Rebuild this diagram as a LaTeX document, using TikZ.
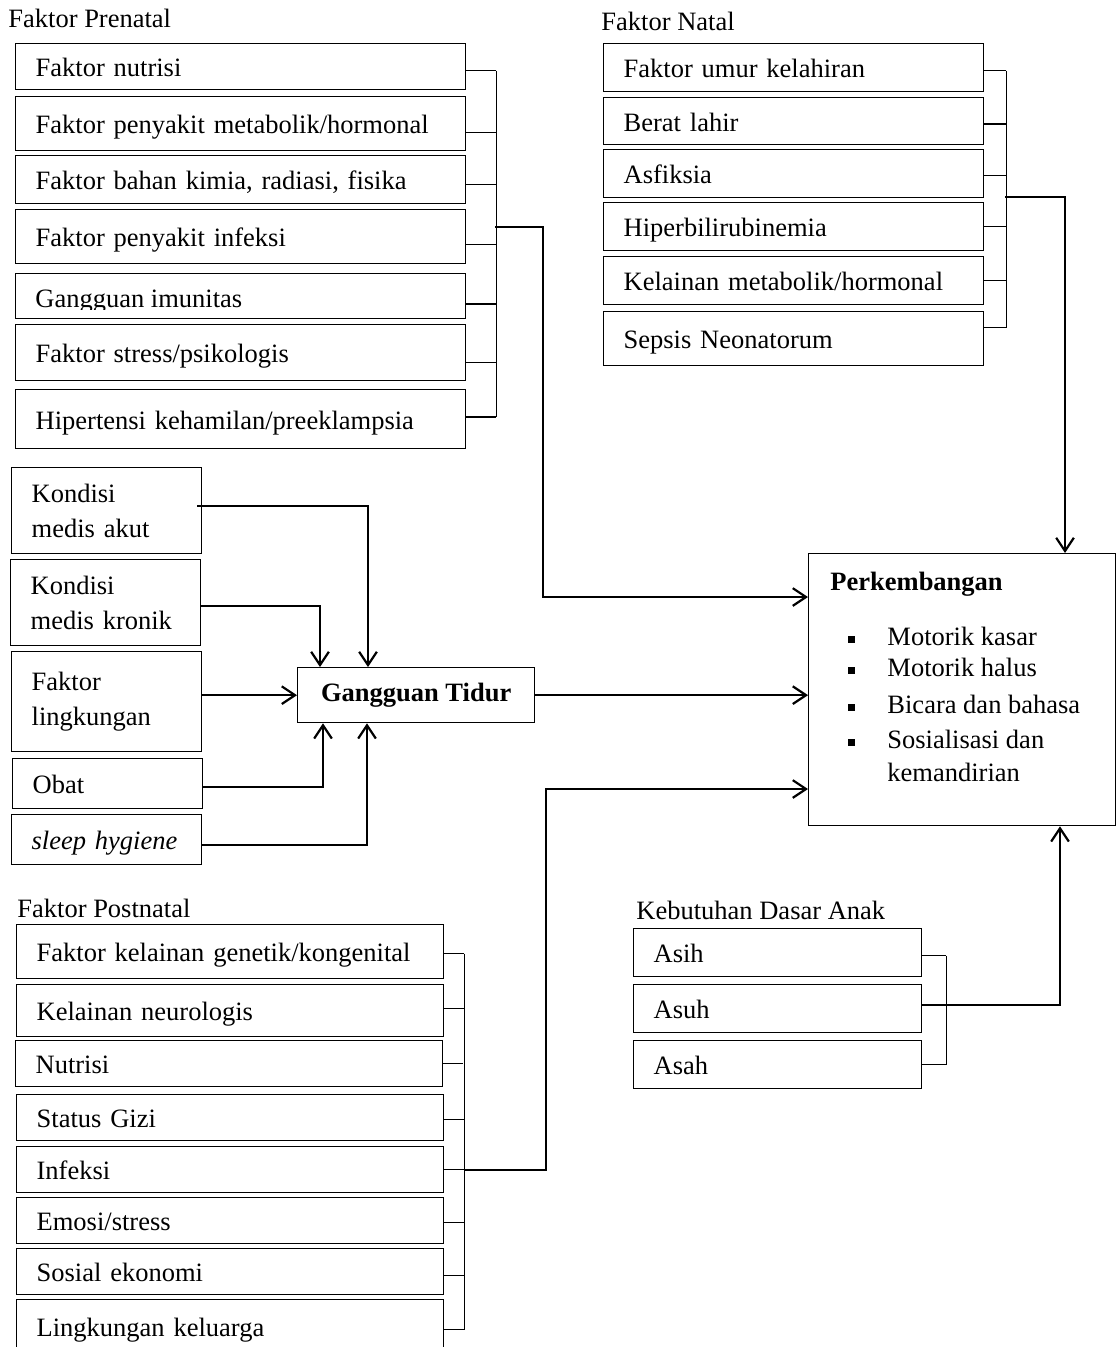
\documentclass[tikz,border=0pt]{standalone}
\usepackage{fontspec}
\setmainfont{Liberation Serif}
\usetikzlibrary{arrows.meta,calc}
\newlength{\pxu}
\setlength{\pxu}{0.4528pt}
\newcommand{\sqbullet}{\rule[1.3pt]{3pt}{3pt}}

\begin{document}
\begin{tikzpicture}[x=\pxu, y=-\pxu, >={Straight Barb[length=6pt,width=8pt]}]
    \fontsize{12pt}{15.85pt}\selectfont

    % Define styles
    \tikzstyle{box} = [draw, line width=0.6pt, anchor=north west, align=left, inner xsep=20*\pxu, inner ysep=0pt]
    \tikzstyle{single} = [box, text height=10pt, text depth=0.8pt]
    \tikzstyle{prebox} = [single, text width=410*\pxu]
    \tikzstyle{natbox} = [single, text width=340*\pxu]
    \tikzstyle{postbox} = [single, text width=387*\pxu]
    \tikzstyle{kebbox} = [single, text width=248*\pxu]
    \tikzstyle{sidebox} = [box, text width=150*\pxu]
    \tikzstyle{title} = [anchor=base west, inner sep=0pt]
    \tikzstyle{bracket} = [line width=0.7pt]
    \tikzstyle{conn} = [line width=1pt]

    \useasboundingbox (0,0) rectangle (1117,1347);
    \clip (0,0) rectangle (1117,1347);

    % PRENATAL
    \node (pretitle) [title] at (8,27) {Faktor Prenatal};
    \node (pre1) [prebox, minimum height=46*\pxu] at (15,43) {Faktor nutrisi};
    \node (pre2) [prebox, minimum height=54*\pxu] at (15,96) {Faktor penyakit metabolik/hormonal};
    \node (pre3) [prebox, minimum height=48*\pxu] at (15,155) {Faktor bahan kimia, radiasi, fisika};
    \node (pre4) [prebox, minimum height=54*\pxu] at (15,209) {Faktor penyakit infeksi};
    \node (pre5) [prebox, minimum height=45*\pxu] at (15,273) {};
    \begin{scope}
        \clip (15,273) rectangle (465,309);
        \node (pre5text) [title] at (35,307) {Gangguan imunitas};
    \end{scope}
    \node (pre6) [prebox, minimum height=56*\pxu] at (15,324) {Faktor stress/psikologis};
    \node (pre7) [prebox, minimum height=59*\pxu] at (15,389) {Hipertensi kehamilan/preeklampsia};

    % NATAL
    \node (nattitle) [title] at (601,30) {Faktor Natal};
    \node (nat1) [natbox, minimum height=48*\pxu] at (603,43) {Faktor umur kelahiran};
    \node (nat2) [natbox, minimum height=47*\pxu] at (603,97) {Berat lahir};
    \node (nat3) [natbox, minimum height=48*\pxu] at (603,149) {Asfiksia};
    \node (nat4) [natbox, minimum height=48*\pxu] at (603,202) {Hiperbilirubinemia};
    \node (nat5) [natbox, minimum height=48*\pxu] at (603,256) {Kelainan metabolik/hormonal};
    \node (nat6) [natbox, minimum height=54*\pxu] at (603,311) {Sepsis Neonatorum};

    % SLEEP FACTORS
    \node (akut) [sidebox, minimum height=86*\pxu] at (11,467) {Kondisi\\medis akut};
    \node (kronik) [sidebox, minimum height=86*\pxu] at (10,559) {Kondisi\\medis kronik};
    \node (ling) [sidebox, minimum height=100*\pxu] at (11,651) {Faktor\\lingkungan};
    \node (obat) [sidebox, single, minimum height=50*\pxu] at (12,758) {Obat};
    \node (sleep) [sidebox, single, minimum height=50*\pxu] at (11,814) {\textit{sleep hygiene}};
    \node (gt) [draw, line width=0.6pt, anchor=north west, minimum width=237*\pxu, minimum height=55*\pxu, font=\bfseries] at (297,667) {Gangguan Tidur};

    % DEVELOPMENT
    \node (dev) [draw, line width=0.6pt, anchor=north west, minimum width=307*\pxu, minimum height=272*\pxu] at (808,553) {};
    \node (devlist) [anchor=north west, inner sep=0pt, align=left] at ($(dev.north west)+(22,19)$) {\textbf{Perkembangan}\\[9pt]
        \hspace*{18\pxu}\makebox[39\pxu][l]{\sqbullet}Motorik kasar\\[-1.8pt]
        \hspace*{18\pxu}\makebox[39\pxu][l]{\sqbullet}Motorik halus\\[0.9pt]
        \hspace*{18\pxu}\makebox[39\pxu][l]{\sqbullet}Bicara dan bahasa\\
        \hspace*{18\pxu}\makebox[39\pxu][l]{\sqbullet}Sosialisasi dan\\[-0.9pt]
        \hspace*{57\pxu}kemandirian};

    % POSTNATAL
    \node (posttitle) [title] at (17,917) {Faktor Postnatal};
    \node (post1) [postbox, minimum height=54*\pxu] at (16,924) {Faktor kelainan genetik/kongenital};
    \node (post2) [postbox, minimum height=52*\pxu] at (16,984) {Kelainan neurologis};
    \node (post3) [postbox, minimum height=46*\pxu] at (15,1040) {Nutrisi};
    \node (post4) [postbox, minimum height=46*\pxu] at (16,1094) {Status Gizi};
    \node (post5) [postbox, minimum height=46*\pxu] at (16,1146) {Infeksi};
    \node (post6) [postbox, minimum height=46*\pxu] at (16,1197) {Emosi/stress};
    \node (post7) [postbox, minimum height=46*\pxu] at (16,1248) {Sosial ekonomi};
    \node (post8) [postbox, minimum height=54*\pxu] at (16,1299) {Lingkungan keluarga};

    % BASIC NEEDS
    \node (kebtitle) [title] at (636,919) {Kebutuhan Dasar Anak};
    \node (keb1) [kebbox, minimum height=48*\pxu] at (633,928) {Asih};
    \node (keb2) [kebbox, minimum height=48*\pxu] at (633,984) {Asuh};
    \node (keb3) [kebbox, minimum height=48*\pxu] at (633,1040) {Asah};

    % BRACKETS
    \draw[bracket] ([yshift=-4*\pxu]pre1.east) -- ++(30,0) coordinate (pre1s);
    \draw[bracket] ([yshift=-9*\pxu]pre2.east) -- ++(30,0) coordinate (pre2s);
    \draw[bracket] ([yshift=-5*\pxu]pre3.east) -- ++(30,0) coordinate (pre3s);
    \draw[bracket] ([yshift=-8*\pxu]pre4.east) -- ++(30,0) coordinate (pre4s);
    \draw[bracket] ([yshift=-8*\pxu]pre5.east) -- ++(30,0) coordinate (pre5s);
    \draw[bracket] ([yshift=-10*\pxu]pre6.east) -- ++(30,0) coordinate (pre6s);
    \draw[bracket] ([yshift=2*\pxu]pre7.east) -- ++(30,0) coordinate (pre7s);
    \draw[bracket] (pre1s) -- (pre7s);

    \draw[bracket] ([yshift=-3*\pxu]nat1.east) -- ++(22,0) coordinate (nat1s);
    \draw[bracket] ([yshift=-3*\pxu]nat2.east) -- ++(22,0) coordinate (nat2s);
    \draw[bracket] ([yshift=-2*\pxu]nat3.east) -- ++(22,0) coordinate (nat3s);
    \draw[bracket] (nat4.east) -- ++(22,0) coordinate (nat4s);
    \draw[bracket] (nat5.east) -- ++(22,0) coordinate (nat5s);
    \draw[bracket] ([yshift=11*\pxu]nat6.east) -- ++(22,0) coordinate (nat6s);
    \draw[bracket] (nat1s) -- (nat6s);

    \draw[bracket] ([yshift=-2*\pxu]post1.east) -- ++(20,0) coordinate (post1s);
    \draw[bracket] ([yshift=2*\pxu]post2.east) -- ++(20,0) coordinate (post2s);
    \draw[bracket] (post3.east) -- ++(20,0) coordinate (post3s);
    \draw[bracket] ([yshift=-2*\pxu]post4.east) -- ++(20,0) coordinate (post4s);
    \draw[bracket] (post5.east) -- ++(20,0) coordinate (post5s);
    \draw[bracket] ([yshift=-2*\pxu]post6.east) -- ++(20,0) coordinate (post6s);
    \draw[bracket] ([yshift=-4*\pxu]post7.east) -- ++(20,0) coordinate (post7s);
    \draw[bracket] ([yshift=-3*\pxu]post8.east) -- ++(20,0) coordinate (post8s);
    \draw[bracket] (post1s) -- (post8s);

    \draw[bracket] ([yshift=-3*\pxu]keb1.east) -- ++(24,0) coordinate (keb1s);
    \draw[bracket] (keb3.east) -- ++(24,0) coordinate (keb3s);
    \draw[bracket] (keb1s) -- (keb3s);

    % CONNECTIONS
    \coordinate (prejoin) at (495,227);
    \coordinate (natjoin) at (1005,197);
    \draw[conn, ->] (prejoin) -- ++(48,0) |- ($(dev.north west)+(0,44)$);
    \draw[conn, ->] (natjoin) -| ($(dev.north west)+(257,0)$);
    \draw[conn, ->] (post5s) -- ++(82,0) |- ($(dev.north west)+(0,236)$);
    \draw[conn, ->] ([yshift=4*\pxu]keb2.east) -| ($(dev.south west)+(252,0)$);

    \draw[conn, ->] ([xshift=-5*\pxu, yshift=5*\pxu]akut.east) -| ($(gt.north west)+(71,0)$);
    \draw[conn, ->] ([yshift=-3*\pxu]kronik.east) -| ($(gt.north west)+(23,0)$);
    \draw[conn, ->] (ling.east |- gt.west) -- (gt.west);
    \draw[conn, ->] ([yshift=-3*\pxu]obat.east) -| ($(gt.south west)+(26,0)$);
    \draw[conn, ->] ([yshift=-5*\pxu]sleep.east) -| ($(gt.south west)+(70,0)$);
    \draw[conn, ->] (gt.east) -- (gt.east -| dev.west);

\end{tikzpicture}
\end{document}
